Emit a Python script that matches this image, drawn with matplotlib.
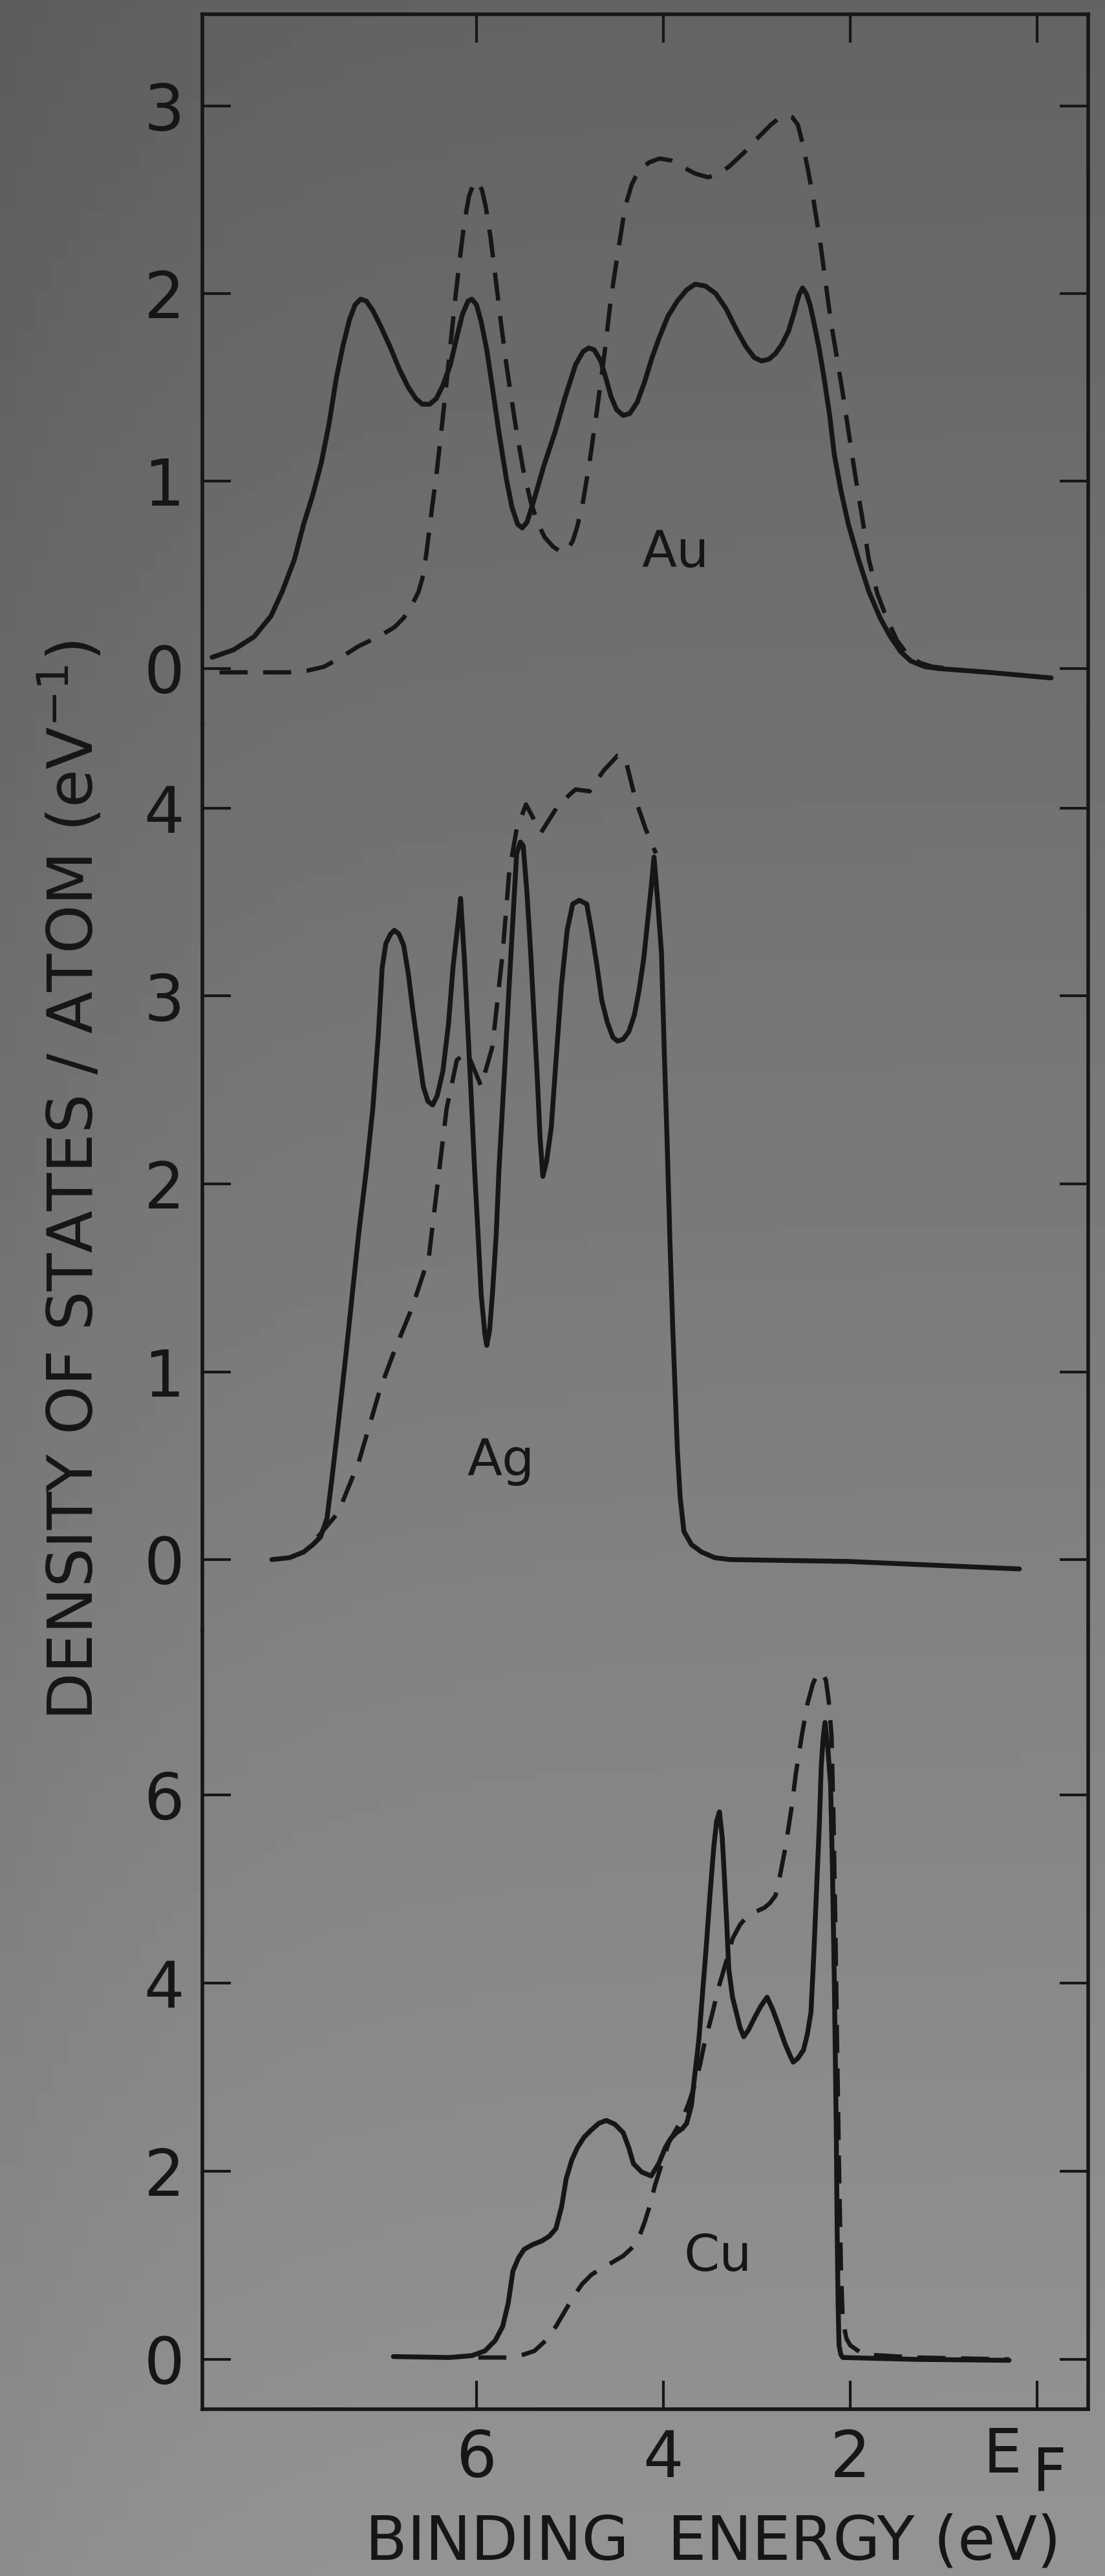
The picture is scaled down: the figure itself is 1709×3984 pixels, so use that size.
import numpy as np
import matplotlib
matplotlib.use("Agg")
import matplotlib.pyplot as plt

plt.rcParams['font.family'] = ['DejaVu Sans']

# ---------------- data (binding energy in eV, DOS in states/eV/atom) -------------
au_solid_E = [8.83, 8.60, 8.38, 8.20, 8.08, 7.95, 7.85, 7.75, 7.66, 7.58, 7.50, 7.43, 7.36, 7.30,
              7.24, 7.18, 7.11, 7.02, 6.92, 6.82, 6.73, 6.65, 6.58, 6.50, 6.43, 6.36, 6.28, 6.21,
              6.15, 6.09, 6.05, 6.00, 5.95, 5.89, 5.83, 5.76, 5.68, 5.62, 5.56, 5.51, 5.46, 5.39,
              5.28, 5.16, 5.05, 4.94, 4.86, 4.80, 4.74, 4.67, 4.61, 4.56, 4.50, 4.43, 4.36, 4.28,
              4.20, 4.12, 4.04, 3.95, 3.85, 3.75, 3.66, 3.55, 3.44, 3.33, 3.22, 3.12, 3.03, 2.95,
              2.87, 2.80, 2.73, 2.66, 2.60, 2.55, 2.51, 2.47, 2.43, 2.39, 2.33, 2.28, 2.22, 2.17,
              2.10, 2.02, 1.91, 1.80, 1.68, 1.57, 1.46, 1.35, 1.20, 1.05, 0.52, -0.15]
au_solid_D = [0.06, 0.10, 0.17, 0.28, 0.41, 0.58, 0.77, 0.93, 1.10, 1.30, 1.55, 1.72, 1.86, 1.94,
              1.97, 1.96, 1.91, 1.82, 1.71, 1.59, 1.50, 1.44, 1.41, 1.41, 1.44, 1.51, 1.62, 1.77,
              1.89, 1.96, 1.97, 1.94, 1.85, 1.70, 1.50, 1.26, 1.01, 0.86, 0.77, 0.75, 0.78, 0.89,
              1.08, 1.26, 1.45, 1.62, 1.69, 1.71, 1.70, 1.64, 1.54, 1.45, 1.38, 1.35, 1.36, 1.42,
              1.53, 1.66, 1.77, 1.88, 1.96, 2.02, 2.05, 2.04, 2.00, 1.92, 1.81, 1.72, 1.66, 1.64,
              1.65, 1.68, 1.73, 1.80, 1.90, 1.99, 2.03, 2.00, 1.94, 1.85, 1.70, 1.55, 1.35, 1.14,
              0.95, 0.77, 0.58, 0.41, 0.27, 0.17, 0.09, 0.04, 0.01, 0.00, -0.02, -0.05]

au_dash_E = [8.75, 8.00, 7.80, 7.63, 7.45, 7.26, 7.05, 6.88, 6.78, 6.69, 6.62, 6.58, 6.54, 6.51,
             6.47, 6.43, 6.38, 6.33, 6.28, 6.23, 6.18, 6.13, 6.08, 6.03, 5.99, 5.94, 5.90, 5.85,
             5.80, 5.74, 5.68, 5.62, 5.57, 5.50, 5.42, 5.34, 5.27, 5.18, 5.09, 5.03, 4.97, 4.92,
             4.86, 4.79, 4.71, 4.63, 4.56, 4.48, 4.41, 4.34, 4.26, 4.15, 4.04, 3.92, 3.81, 3.66,
             3.52, 3.40, 3.29, 3.14, 2.99, 2.85, 2.75, 2.69, 2.62, 2.56, 2.51, 2.46, 2.40, 2.32,
             2.21, 2.09, 1.94, 1.87, 1.80, 1.71, 1.61, 1.50, 1.38, 1.25, 1.12, 0.95]
au_dash_D = [-0.02, -0.02, -0.01, 0.01, 0.06, 0.12, 0.17, 0.22, 0.27, 0.34, 0.41, 0.48, 0.60, 0.72,
             0.88, 1.03, 1.25, 1.48, 1.72, 1.96, 2.18, 2.38, 2.52, 2.59, 2.60, 2.55, 2.46, 2.30,
             2.10, 1.85, 1.62, 1.42, 1.26, 1.06, 0.89, 0.77, 0.70, 0.65, 0.62, 0.63, 0.68, 0.76,
             0.89, 1.10, 1.38, 1.68, 1.98, 2.24, 2.46, 2.58, 2.66, 2.70, 2.72, 2.71, 2.68, 2.64,
             2.62, 2.64, 2.68, 2.75, 2.83, 2.90, 2.94, 2.95, 2.94, 2.90, 2.80, 2.68, 2.52, 2.27,
             1.86, 1.50, 1.01, 0.80, 0.58, 0.40, 0.27, 0.15, 0.07, 0.03, 0.01, 0.00]

ag_solid_E = [8.19, 8.00, 7.85, 7.75, 7.67, 7.60, 7.55, 7.48, 7.40, 7.33, 7.26, 7.18, 7.11, 7.05,
              7.01, 6.97, 6.92, 6.88, 6.83, 6.78, 6.73, 6.68, 6.62, 6.57, 6.52, 6.47, 6.42, 6.36,
              6.30, 6.25, 6.20, 6.17, 6.13, 6.10, 6.06, 6.02, 5.98, 5.95, 5.91, 5.89, 5.86, 5.83,
              5.79, 5.76, 5.70, 5.65, 5.60, 5.57, 5.53, 5.50, 5.46, 5.42, 5.38, 5.35, 5.32, 5.29,
              5.25, 5.20, 5.15, 5.09, 5.03, 4.97, 4.90, 4.82, 4.77, 4.71, 4.66, 4.60, 4.54, 4.49,
              4.43, 4.37, 4.31, 4.26, 4.21, 4.17, 4.13, 4.10, 4.06, 4.02, 3.99, 3.96, 3.93, 3.90,
              3.87, 3.85, 3.82, 3.78, 3.70, 3.59, 3.45, 3.29, 2.02, 0.19]
ag_solid_D = [0.00, 0.01, 0.04, 0.08, 0.12, 0.22, 0.42, 0.72, 1.08, 1.41, 1.74, 2.07, 2.40, 2.80,
              3.15, 3.28, 3.33, 3.35, 3.33, 3.27, 3.12, 2.92, 2.70, 2.52, 2.44, 2.42, 2.47, 2.60,
              2.85, 3.16, 3.38, 3.52, 3.20, 2.90, 2.50, 2.07, 1.70, 1.41, 1.20, 1.14, 1.22, 1.41,
              1.72, 2.07, 2.60, 3.06, 3.50, 3.76, 3.82, 3.80, 3.55, 3.23, 2.85, 2.57, 2.25, 2.04,
              2.12, 2.30, 2.65, 3.06, 3.35, 3.49, 3.51, 3.49, 3.35, 3.16, 2.98, 2.86, 2.78, 2.76,
              2.77, 2.81, 2.90, 3.03, 3.20, 3.39, 3.58, 3.74, 3.50, 3.23, 2.70, 2.23, 1.70, 1.24,
              0.85, 0.58, 0.33, 0.15, 0.08, 0.04, 0.01, 0.00, -0.01, -0.05]

ag_dash_E = [7.70, 7.48, 7.26, 7.03, 6.88, 6.69, 6.51, 6.40, 6.32, 6.21, 6.10, 5.95, 5.83, 5.72,
             5.65, 5.57, 5.47, 5.31, 5.12, 4.94, 4.79, 4.64, 4.49, 4.41, 4.30, 4.19, 4.08]
ag_dash_D = [0.12, 0.25, 0.52, 0.91, 1.11, 1.34, 1.61, 2.07, 2.40, 2.66, 2.70, 2.52, 2.73, 3.23,
             3.66, 3.89, 4.02, 3.87, 4.02, 4.10, 4.09, 4.20, 4.28, 4.27, 4.05, 3.89, 3.76]

cu_solid_E = [6.89, 6.29, 6.05, 5.91, 5.80, 5.72, 5.66, 5.61, 5.55, 5.49, 5.40, 5.30, 5.22, 5.15,
              5.09, 5.04, 4.98, 4.92, 4.85, 4.77, 4.69, 4.61, 4.52, 4.43, 4.37, 4.32, 4.23, 4.13,
              4.05, 3.98, 3.92, 3.86, 3.80, 3.75, 3.70, 3.67, 3.62, 3.58, 3.54, 3.50, 3.46, 3.43,
              3.40, 3.37, 3.35, 3.32, 3.30, 3.26, 3.22, 3.18, 3.14, 3.09, 3.03, 2.96, 2.89, 2.83,
              2.77, 2.70, 2.64, 2.61, 2.56, 2.50, 2.46, 2.42, 2.39, 2.36, 2.33, 2.31, 2.29, 2.27,
              2.24, 2.21, 2.19, 2.17, 2.15, 2.14, 2.13, 2.12, 2.10, 2.08, 1.29, 0.30]
cu_solid_D = [0.03, 0.02, 0.04, 0.09, 0.20, 0.35, 0.60, 0.94, 1.08, 1.17, 1.22, 1.26, 1.31, 1.39,
              1.62, 1.92, 2.12, 2.25, 2.36, 2.44, 2.51, 2.54, 2.50, 2.41, 2.25, 2.08, 1.99, 1.95,
              2.08, 2.25, 2.35, 2.41, 2.45, 2.51, 2.70, 2.97, 3.40, 3.90, 4.40, 4.95, 5.45, 5.72,
              5.82, 5.55, 5.19, 4.60, 4.15, 3.85, 3.69, 3.53, 3.43, 3.50, 3.62, 3.75, 3.85, 3.72,
              3.56, 3.36, 3.22, 3.16, 3.20, 3.29, 3.45, 3.69, 4.30, 5.00, 5.70, 6.31, 6.60, 6.77,
              6.50, 6.11, 5.20, 4.01, 2.50, 1.39, 0.60, 0.15, 0.05, 0.02, 0.00, -0.01]

cu_dash_E = [5.98, 5.68, 5.50, 5.38, 5.26, 5.15, 5.05, 4.96, 4.87, 4.77, 4.66, 4.55, 4.43, 4.32,
             4.26, 4.20, 4.14, 4.09, 4.01, 3.94, 3.86, 3.79, 3.73, 3.67, 3.61, 3.56, 3.48, 3.41,
             3.33, 3.26, 3.18, 3.11, 3.01, 2.92, 2.86, 2.80, 2.75, 2.69, 2.63, 2.58, 2.52, 2.46,
             2.40, 2.35, 2.30, 2.26, 2.23, 2.20, 2.18, 2.16, 2.14, 2.12, 2.10, 2.08, 2.04, 2.00,
             1.90, 1.82, 1.29, 0.30]
cu_dash_D = [0.02, 0.02, 0.05, 0.09, 0.20, 0.35, 0.52, 0.67, 0.80, 0.90, 0.97, 1.03, 1.10, 1.20,
             1.30, 1.46, 1.65, 1.85, 2.10, 2.31, 2.45, 2.57, 2.72, 2.90, 3.12, 3.36, 3.66, 3.95,
             4.22, 4.47, 4.62, 4.70, 4.76, 4.80, 4.85, 4.93, 5.15, 5.46, 5.85, 6.24, 6.62, 6.96,
             7.18, 7.29, 7.30, 7.22, 7.00, 6.63, 5.80, 4.67, 3.30, 2.05, 1.00, 0.41, 0.22, 0.15,
             0.08, 0.05, 0.02, 0.00]

x_ticks = [6, 4, 2, 0]
x_ticklabels = ['6', '4', '2', '']
au_yticks = [0, 1, 2, 3]
ag_yticks = [0, 1, 2, 3, 4]
cu_yticks = [0, 2, 4, 6]
panel_names = ['Au', 'Ag', 'Cu']

# ---------------- figure ----------------
W, H = 1709, 3984
fig = plt.figure(figsize=(W / 100, H / 100), dpi=100)

# scanned-paper grey background
bg = fig.add_axes([0, 0, 1, 1], zorder=-10)
grad = np.linspace(0.39, 0.58, 256)[:, None] * np.ones((1, 64))
grad = grad - 0.03 * np.exp(-np.linspace(0, 1, 64)[None, :] * 6)
bg.imshow(grad, cmap='gray', vmin=0, vmax=1, aspect='auto', extent=[0, 1, 0, 1])
bg.set_axis_off()

ink = '#161616'
xl = (8.934, -0.547)

def fy(px):
    return 1 - px / H

left = 313 / W
width = 1370 / W

ax_au = fig.add_axes([left, fy(1120), width, (1120 - 22) / H])
ax_ag = fig.add_axes([left, fy(2520), width, (2520 - 1120) / H])
ax_cu = fig.add_axes([left, fy(3726), width, (3726 - 2520) / H])

ax_au.set_ylim(-(1120 - 1034) / 290, (1034 - 22) / 290)
ax_ag.set_ylim(-(2520 - 2412) / 290.5, (2412 - 1120) / 290.5)
ax_cu.set_ylim(-(3726 - 3649) / 145.5, (3649 - 2520) / 145.5)

solid_kw = dict(color=ink, lw=5.4, solid_joinstyle='round', solid_capstyle='round', clip_on=False)
dash_kw = dict(color=ink, lw=4.8, linestyle=(0, (6.5, 3.6)), dash_capstyle='butt', clip_on=False)

ax_au.plot(au_solid_E, au_solid_D, **solid_kw)
ax_au.plot(au_dash_E, au_dash_D, **dash_kw)
ax_ag.plot(ag_solid_E, ag_solid_D, **solid_kw)
ax_ag.plot(ag_dash_E, ag_dash_D, **dash_kw)
ax_cu.plot(cu_solid_E, cu_solid_D, **solid_kw)
ax_cu.plot(cu_dash_E, cu_dash_D, **dash_kw)

for ax, yt in [(ax_au, au_yticks), (ax_ag, ag_yticks), (ax_cu, cu_yticks)]:
    ax.set_facecolor('none')
    ax.set_xlim(*xl)
    ax.set_yticks(yt)
    ax.set_yticklabels([str(v) for v in yt])
    ax.set_xticks(x_ticks)
    ax.tick_params(axis='y', direction='in', length=32, width=3, left=True, right=True,
                   labelleft=True, labelright=False, labelsize=71, pad=20, colors=ink)
    for s in ax.spines.values():
        s.set_linewidth(4)
        s.set_color(ink)

ax_au.spines['bottom'].set_visible(False)
ax_ag.spines['top'].set_visible(False)
ax_ag.spines['bottom'].set_visible(False)
ax_cu.spines['top'].set_visible(False)

ax_au.tick_params(axis='x', direction='in', length=32, width=3, top=True, bottom=False,
                  labeltop=False, labelbottom=False, colors=ink)
ax_ag.tick_params(axis='x', top=False, bottom=False, labeltop=False, labelbottom=False)
ax_cu.tick_params(axis='x', direction='in', length=32, width=3, top=False, bottom=True,
                  labelbottom=True, labelsize=71, pad=21, colors=ink)
ax_cu.set_xticklabels(x_ticklabels)

# E_F label at the zero tick
ax_cu.annotate('E', xy=(0, 0), xycoords=('data', 'axes fraction'), xytext=(-53, -26),
               textcoords='offset pixels', ha='center', va='top', fontsize=68, color=ink)
ax_cu.annotate('F', xy=(0, 0), xycoords=('data', 'axes fraction'), xytext=(19, -54),
               textcoords='offset pixels', ha='center', va='top', fontsize=66, color=ink)

# panel labels
ax_au.text(3.875, 0.54, panel_names[0], fontsize=57, ha='center', va='baseline', color=ink)
ax_ag.text(5.74, 0.447, panel_names[1], fontsize=57, ha='center', va='baseline', color=ink)
ax_cu.text(3.42, 0.94, panel_names[2], fontsize=57, ha='center', va='baseline', color=ink)

# axis titles
ax_cu.set_xlabel('BINDING  ENERGY (eV)', fontsize=68, color=ink)
ax_cu.xaxis.set_label_coords((1103 - 313) / 1370, -(3886 - 3726) / 1206)
ax_cu.xaxis.label.set_va('top')

fig.text(112 / W, fy(1826), 'DENSITY OF STATES / ATOM (eV$^{-1}$)', rotation=90,
         ha='center', va='center', fontsize=69, color=ink)

fig.savefig('out.png', dpi=100)
